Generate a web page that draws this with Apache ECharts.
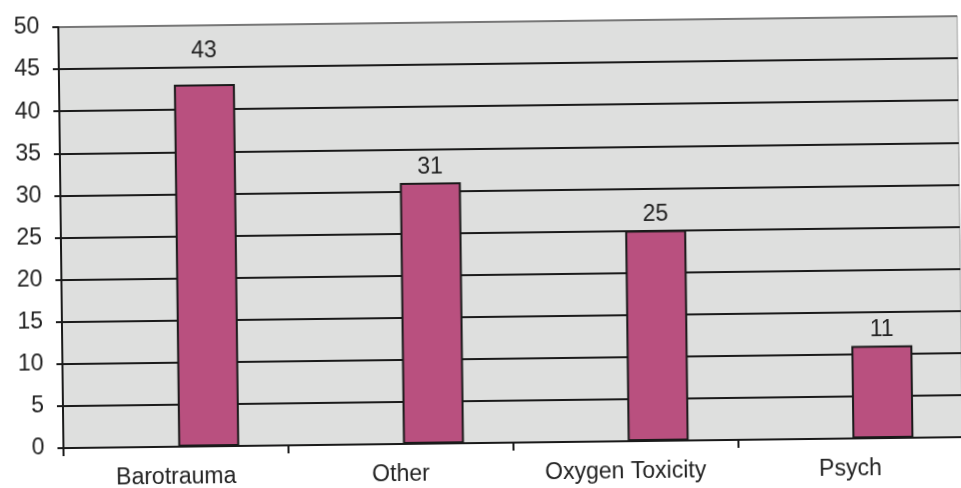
<!DOCTYPE html>
<html>
<head>
<meta charset="utf-8">
<script src="https://cdn.jsdelivr.net/npm/echarts@6/dist/echarts.min.js"></script>
<style>
  html, body { margin: 0; padding: 0; background: #ffffff; overflow: hidden; }
  #chart { width: 961px; height: 488px; transform: rotate(-0.7deg); transform-origin: 480px 244px; }
</style>
</head>
<body>
<div id="chart"></div>
<script>
// Incident categories and counts
const categories = ['Barotrauma', 'Other', 'Oxygen Toxicity', 'Psych'];
const counts = [43, 31, 25, 11];
const yTicks = [0, 5, 10, 15, 20, 25, 30, 35, 40, 45, 50];

// Extra space between each value label and its bar
const labelGap = [22, 4, 4, 4];

const FONT = 'Liberation Sans, Arial, sans-serif';
const chart = echarts.init(document.getElementById('chart'));

// Top border line of the plot is lighter than the inner gridlines
const gridColors = yTicks.map(function (t, i) { return i === yTicks.length - 1 ? '#777777' : '#1a1a1a'; });

chart.setOption({
  animation: false,
  backgroundColor: '#ffffff',
  grid: {
    left: 61, top: 22, width: 899, bottom: 45,
    show: true, backgroundColor: '#dedfde', borderColor: '#9a9a9a', borderWidth: 1
  },
  xAxis: {
    type: 'category',
    data: categories,
    axisLine: { lineStyle: { color: '#1a1a1a', width: 2 } },
    axisTick: { show: true, length: 8, lineStyle: { color: '#1a1a1a', width: 2 } },
    axisLabel: { color: '#222', fontSize: 23, fontFamily: FONT, margin: 19 }
  },
  yAxis: {
    type: 'value',
    min: yTicks[0], max: yTicks[yTicks.length - 1], interval: yTicks[1] - yTicks[0],
    axisLine: { show: true, lineStyle: { color: '#1a1a1a', width: 2 } },
    axisTick: { show: true, length: 6, lineStyle: { color: '#1a1a1a', width: 2 } },
    axisLabel: { color: '#222', fontSize: 23, fontFamily: FONT, margin: 19 },
    splitLine: { show: true, lineStyle: { color: gridColors, width: 2 } }
  },
  series: [
    {
      type: 'bar',
      data: categories.map(function () { return '-'; }),
      barWidth: 61,
      barGap: '8%'
    },
    {
      type: 'bar',
      barWidth: 61,
      barGap: '8%',
      data: counts.map(function (v, i) {
        return { value: v, label: { distance: labelGap[i] } };
      }),
      itemStyle: { color: '#b9507f', borderColor: '#1a1a1a', borderWidth: 2 },
      label: { show: true, position: 'top', color: '#222', fontSize: 23, fontFamily: FONT }
    }
  ]
});
</script>
</body>
</html>
